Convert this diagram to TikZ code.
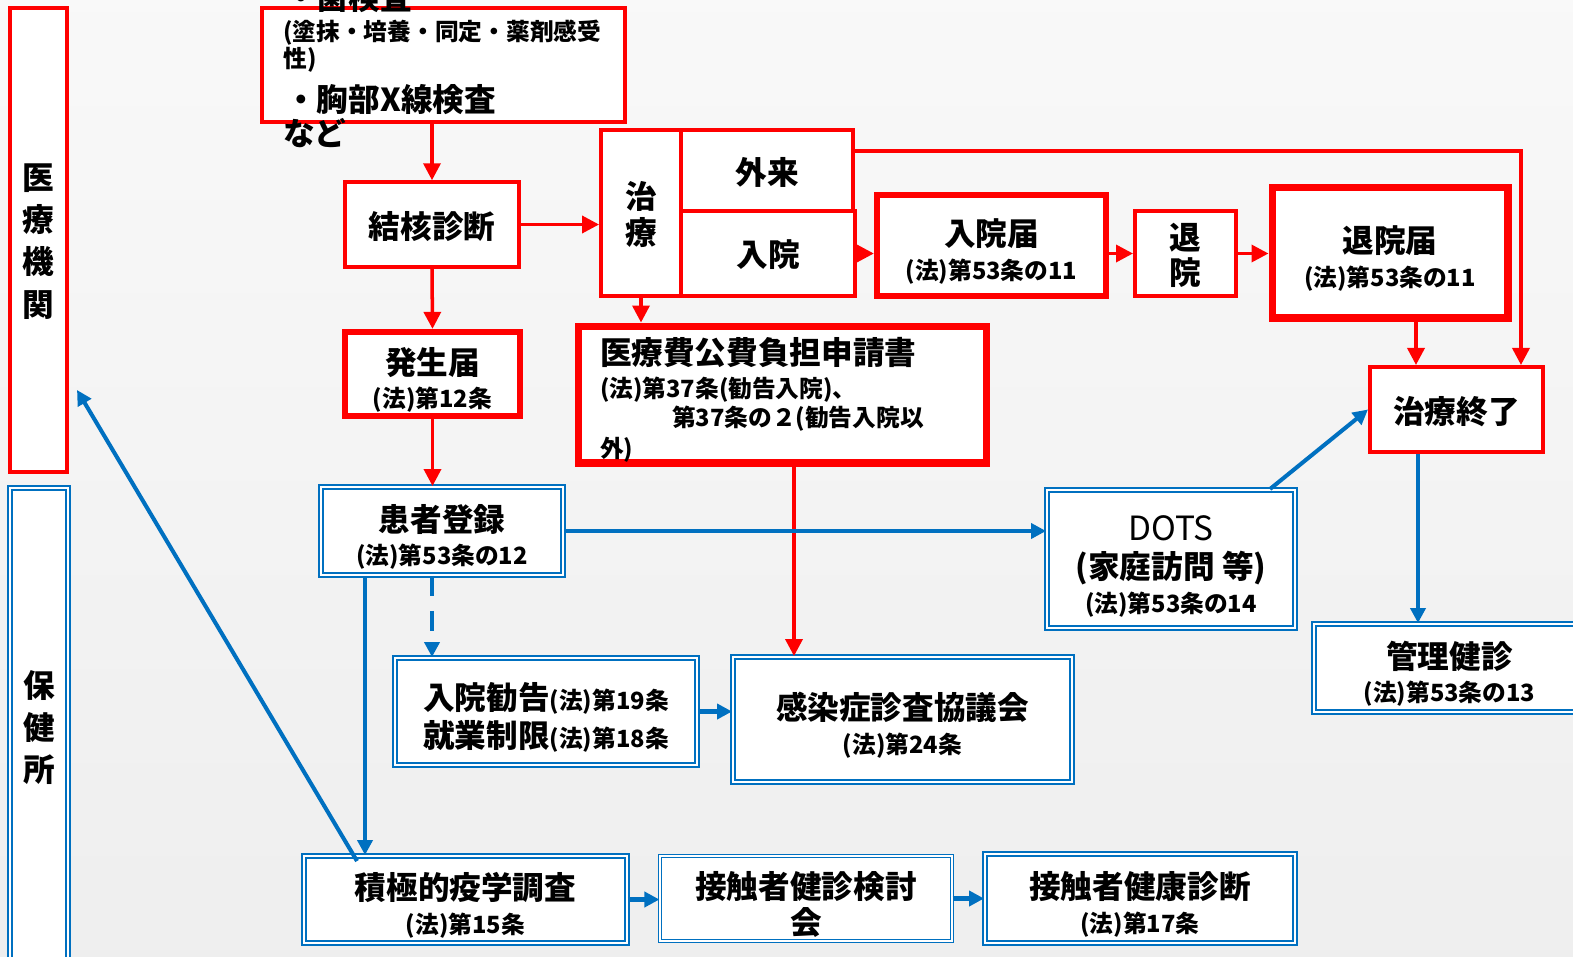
\documentclass[tikz,border=0pt]{standalone}
\usepackage{fontspec}
\setmainfont{Noto Sans CJK JP}
\usetikzlibrary{arrows.meta}
\definecolor{hcblue}{RGB}{0,112,192}
\newcommand\lgf{\fontsize{18}{19}\selectfont}
\newcommand\smf{\fontsize{13.5}{19}\selectfont}
\newcommand\tstrut{\rule{0pt}{0.78cm}}

\begin{document}
\begin{tikzpicture}[x=0.02cm,y=-0.02cm,
  redbox/.style={draw=red,line width=2pt,fill=white,inner sep=0pt,align=center,font=\bfseries\lgf},
  bluebox/.style={draw=hcblue,line width=1.1pt,double=white,double distance=1.1pt,fill=white,inner sep=0pt,align=center,font=\bfseries\lgf},
  redarr/.style={draw=red,line width=2pt,-{Triangle[length=0.34cm,width=0.34cm]}},
  bluearr/.style={draw=hcblue,line width=2.3pt,-{Triangle[length=0.3cm,width=0.3cm]}},
  txt/.style={anchor=west,inner sep=0pt,font=\bfseries}]
\path[use as bounding box,clip] (0,0) rectangle (1573,957);
\shade[top color=gray!5,bottom color=gray!13] (0,0) rectangle (1573,957);

% columns
\node[redbox,text depth=-6pt,line width=2.3pt,minimum width=1.14cm,minimum height=9.28cm,font=\bfseries\fontsize{18}{24}\selectfont] (iryo) at (38.5,240) {医\\療\\機\\関};
\node[bluebox,text depth=-6pt,minimum width=1.16cm,minimum height=9.52cm,font=\bfseries\fontsize{18}{24}\selectfont] (hoken) at (39,726) {保\\健\\所};

% examinations
\node[redbox,line width=2.2pt,minimum width=7.26cm,minimum height=2.28cm] (kensa) at (443.5,65) {};
\node[txt,font=\bfseries\lgf] (kensa1) at (285,-2) {・菌検査};
\node[txt,font=\bfseries\smf] (kensa2) at (283,33) {(塗抹・培養・同定・薬剤感受};
\node[txt,font=\bfseries\smf] (kensa3) at (283,60) {性)};
\node[txt,font=\bfseries\lgf] (kensa4) at (285,100) {・胸部X線検査};
\node[txt,font=\bfseries\lgf] (kensa5) at (283,133) {など};

% medical side
\node[redbox,text depth=-4pt,minimum width=3.48cm,minimum height=1.70cm] (kekka) at (432,224.5) {結核診断};
\node[redbox,line width=3.6pt,minimum width=3.5cm,minimum height=1.68cm] (hassei) at (432.5,374) {\tstrut 発生届\\{\smf (法)第12条}};
\node[redbox,text depth=-6pt,line width=2.2pt,minimum width=1.6cm,minimum height=3.32cm,font=\bfseries\fontsize{18}{20}\selectfont] (chiryo) at (641,213) {治\\療};
\node[redbox,text depth=-4pt,line width=2.2pt,minimum width=3.44cm,minimum height=1.62cm] (gairai) at (767,170.5) {外来};
\node[redbox,text depth=-4pt,line width=2.2pt,minimum width=3.48cm,minimum height=1.70cm] (nyuin) at (768,253.5) {入院};
\node[redbox,line width=3.6pt,minimum width=4.58cm,minimum height=2.02cm] (nyuintodoke) at (991.5,245.5) {\tstrut 入院届\\{\smf (法)第53条の11}};
\node[redbox,text depth=-6pt,line width=2.3pt,minimum width=2.02cm,minimum height=1.70cm,font=\bfseries\fontsize{18}{20}\selectfont] (taiin) at (1185.5,253.5) {退\\院};
\node[redbox,line width=4pt,minimum width=4.72cm,minimum height=2.62cm] (taiintodoke) at (1390,252.5) {\tstrut 退院届\\{\smf (法)第53条の11}};
\node[redbox,text depth=-4pt,line width=2.3pt,minimum width=3.46cm,minimum height=1.70cm] (shuryo) at (1456.5,409.5) {治療終了};
\node[redbox,line width=4pt,minimum width=8.18cm,minimum height=2.74cm,text width=7.3cm,align=left] (kohi) at (782.5,394.5)
  {\rule{0pt}{0.75cm}医療費公費負担申請書\\{\smf (法)第37条(勧告入院)、}\\[-2.3pt]{\smf \hspace*{1.44cm}第37条の２(勧告入院以}\\[-1.5pt]{\smf 外)}};

% health centre side
\node[bluebox,minimum width=4.84cm,minimum height=1.76cm] (kanja) at (442,531) {\tstrut 患者登録\\{\smf (法)第53条の12}};
\node[bluebox,minimum width=6.04cm,minimum height=2.14cm,align=left] (kankoku) at (546,711.5) {\tstrut 入院勧告{\smf (法)第19条}\\[2.6pt]就業制限{\smf (法)第18条}};
\node[bluebox,minimum width=6.78cm,minimum height=2.5cm] (shinsa) at (902.5,719.5) {\tstrut 感染症診査協議会\\{\smf (法)第24条}};
\node[bluebox,minimum width=4.96cm,minimum height=2.76cm] (dots) at (1171,559) {\tstrut{\mdseries\fontsize{19}{19}\selectfont DOTS}\\[3pt](家庭訪問 等)\\{\smf (法)第53条の14}};
\node[bluebox,minimum width=5.42cm,minimum height=1.76cm] (kanri) at (1449.5,668) {\tstrut 管理健診\\{\smf (法)第53条の13}};
\node[bluebox,minimum width=6.46cm,minimum height=1.74cm] (sekkyoku) at (465.5,899.5) {\tstrut 積極的疫学調査\\{\smf (法)第15条}};
\node[bluebox,line width=0.7pt,double distance=0.8pt,minimum width=5.84cm,minimum height=1.70cm] (kentoukai) at (806,898.5) {\tstrut 接触者健診検討\\[1pt]会};
\node[bluebox,minimum width=6.2cm,minimum height=1.78cm] (kenshin) at (1140,898.5) {\tstrut 接触者健康診断\\{\smf (法)第17条}};

% red flow
\draw[redarr] (kekka.north |- kensa.south) -- (kekka.north);
\draw[redarr] (kekka.east) -- (kekka.east -| chiryo.west);
\draw[redarr] (kekka.south) -- (hassei.north);
\draw[redarr] (hassei.south) -- (hassei.south |- kanja.north);
\draw[redarr] ([yshift=0.39cm]gairai.east) -| ([xshift=1.29cm]shuryo.north);
\draw[redarr] (nyuin.east) -- (nyuin.east -| nyuintodoke.west);
\draw[redarr] (taiin.west -| nyuintodoke.east) -- (taiin.west);
\draw[redarr] (taiin.east) -- (taiin.east -| taiintodoke.west);
\draw[redarr] ([xshift=0.52cm]taiintodoke.south) -- ([xshift=0.52cm]taiintodoke.south |- shuryo.north);
\draw[redarr] (chiryo.south) -- (chiryo.south |- kohi.north);
\draw[redarr] ([xshift=0.23cm]kohi.south) -- ([xshift=0.23cm]kohi.south |- shinsa.north);

% blue flow
\draw[bluearr] (kanja.east) -- (kanja.east -| dots.west);
\draw[bluearr,dash pattern=on 0.4cm off 0.3cm] ([xshift=-0.2cm]kanja.south) -- ([xshift=-0.2cm]kanja.south |- kankoku.north);
\draw[bluearr] ([xshift=-1.54cm]kanja.south) -- ([xshift=-1.54cm]kanja.south |- sekkyoku.north);
\draw[bluearr] (kankoku.east) -- (kankoku.east -| shinsa.west);
\draw[bluearr] ([xshift=1.98cm]dots.north) -- (shuryo.west);
\draw[bluearr] ([xshift=-0.77cm]shuryo.south) -- ([xshift=-0.77cm]shuryo.south |- kanri.north);
\draw[bluearr] (sekkyoku.east) -- (sekkyoku.east -| kentoukai.west);
\draw[bluearr] (kentoukai.east) -- (kentoukai.east -| kenshin.west);
\draw[bluearr] ([xshift=-2.17cm,yshift=-0.12cm]sekkyoku.north) -- ([xshift=0.16cm,yshift=-3cm]iryo.east);
\end{tikzpicture}
\end{document}
